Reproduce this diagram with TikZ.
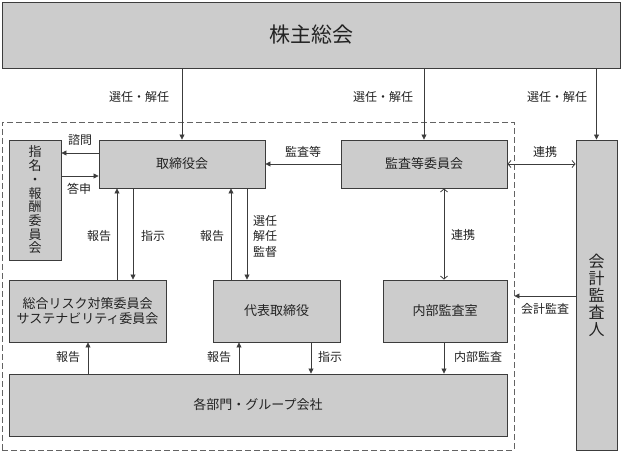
\documentclass[tikz,border=0pt]{standalone}
\usepackage{fontspec}
\setmainfont{Noto Sans CJK JP}
\usetikzlibrary{arrows.meta,calc}
\definecolor{boxfill}{HTML}{CCCCCC}
\definecolor{edgec}{HTML}{3C3C3C}
\definecolor{txt}{HTML}{222222}
\begin{document}
\begin{tikzpicture}[x=1pt,y=-1pt,
  box/.style={draw=edgec, fill=boxfill, line width=0.9pt, inner sep=0pt, align=center, text=txt,
    font=\fontsize{13}{15.6}\selectfont},
  lbl/.style={inner sep=0pt, text=txt, align=left, font=\fontsize{12}{15.5}\selectfont},
  arr/.style={draw=edgec, line width=0.8pt, -{Triangle[length=5pt,width=5pt]}},
  oarr/.style={draw=edgec, line width=0.8pt, {Straight Barb[length=3pt,width=7pt]}-{Straight Barb[length=3pt,width=7pt]}}]
\useasboundingbox (0,0) rectangle (621,454);
% group frame
\node[draw=edgec!80, dash pattern=on 6pt off 3pt, line width=0.9pt, minimum width=512pt, minimum height=328pt, inner sep=0pt] (grp) at (258,286) {};
% boxes
\node[box, minimum width=618pt, minimum height=66pt, font=\fontsize{21}{24}\selectfont] (top) at (311,35) {株主総会};
\node[box, minimum width=52pt, minimum height=120pt, font=\fontsize{13}{13.7}\selectfont] (nom) at (35,200) {指\\名\\・\\報\\酬\\委\\員\\会};
\node[box, minimum width=166pt, minimum height=48pt] (bod) at (182,164) {取締役会};
\node[box, minimum width=166pt, minimum height=48pt] (ac) at (424,164) {監査等委員会};
\node[box, minimum width=41pt, minimum height=310pt, font=\fontsize{16}{17}\selectfont] (aud) at (596.5,295) {会\\計\\監\\査\\人};
\node[box, minimum width=157pt, minimum height=62pt] (risk) at (87.5,311) {総合リスク対策委員会\\サステナビリティ委員会};
\node[box, minimum width=127pt, minimum height=62pt] (ceo) at (276.5,311) {代表取締役};
\node[box, minimum width=124pt, minimum height=62pt] (ia) at (445,311) {内部監査室};
\node[box, minimum width=498pt, minimum height=62pt] (dept) at (258,405) {各部門・グループ会社};
% helper coordinates
\coordinate (y153) at (0,153);
\coordinate (y176) at (0,176);
\coordinate (y296) at (0,296);
\coordinate (x88) at (88,0);
\coordinate (x117) at (117,0);
\coordinate (x133) at (133,0);
\coordinate (x231) at (231,0);
\coordinate (x239) at (239,0);
\coordinate (x247) at (247,0);
\coordinate (x311) at (311,0);
\coordinate (x444) at (444,0);
% connectors
\draw[arr] (top.south -| bod) -- (bod.north);
\draw[arr] (top.south -| ac) -- (ac.north);
\draw[arr] (top.south -| aud) -- (aud.north);
\draw[arr] (bod.west |- y153) -- (nom.east |- y153);
\draw[arr] (nom.east |- y176) -- (bod.west |- y176);
\draw[arr] (risk.north -| x117) -- (bod.south -| x117);
\draw[arr] (bod.south -| x133) -- (risk.north -| x133);
\draw[arr] (ceo.north -| x231) -- (bod.south -| x231);
\draw[arr] (bod.south -| x247) -- (ceo.north -| x247);
\draw[arr] (ac.west) -- (bod.east);
\draw[oarr] (ac.east) -- (aud.west |- ac.east);
\draw[oarr] (ac.south -| x444) -- (ia.north -| x444);
\draw[arr] (aud.west |- y296) -- (grp.east |- y296);
\draw[arr] (dept.north -| x88) -- (risk.south -| x88);
\draw[arr] (dept.north -| x239) -- (ceo.south -| x239);
\draw[arr] (ceo.south -| x311) -- (dept.north -| x311);
\draw[arr] (ia.south -| x444) -- (dept.north -| x444);
% labels
\node[lbl] (l1) at (139,97) {選任・解任};
\node[lbl] (l2) at (383,97) {選任・解任};
\node[lbl] (l3) at (557,97) {選任・解任};
\node[lbl] (l4) at (80,140) {諮問};
\node[lbl] (l5) at (79,189) {答申};
\node[lbl] (l6) at (99,236) {報告};
\node[lbl] (l7) at (153,236) {指示};
\node[lbl] (l8) at (212,236) {報告};
\node[lbl] (l9) at (265,236) {選任\\解任\\監督};
\node[lbl] (l10) at (303,152) {監査等};
\node[lbl] (l11) at (545,152) {連携};
\node[lbl] (l12) at (463,235) {連携};
\node[lbl] (l13) at (545,309) {会計監査};
\node[lbl] (l14) at (68,357) {報告};
\node[lbl] (l15) at (219,357) {報告};
\node[lbl] (l16) at (330,357) {指示};
\node[lbl] (l17) at (478,357) {内部監査};
\end{tikzpicture}
\end{document}
